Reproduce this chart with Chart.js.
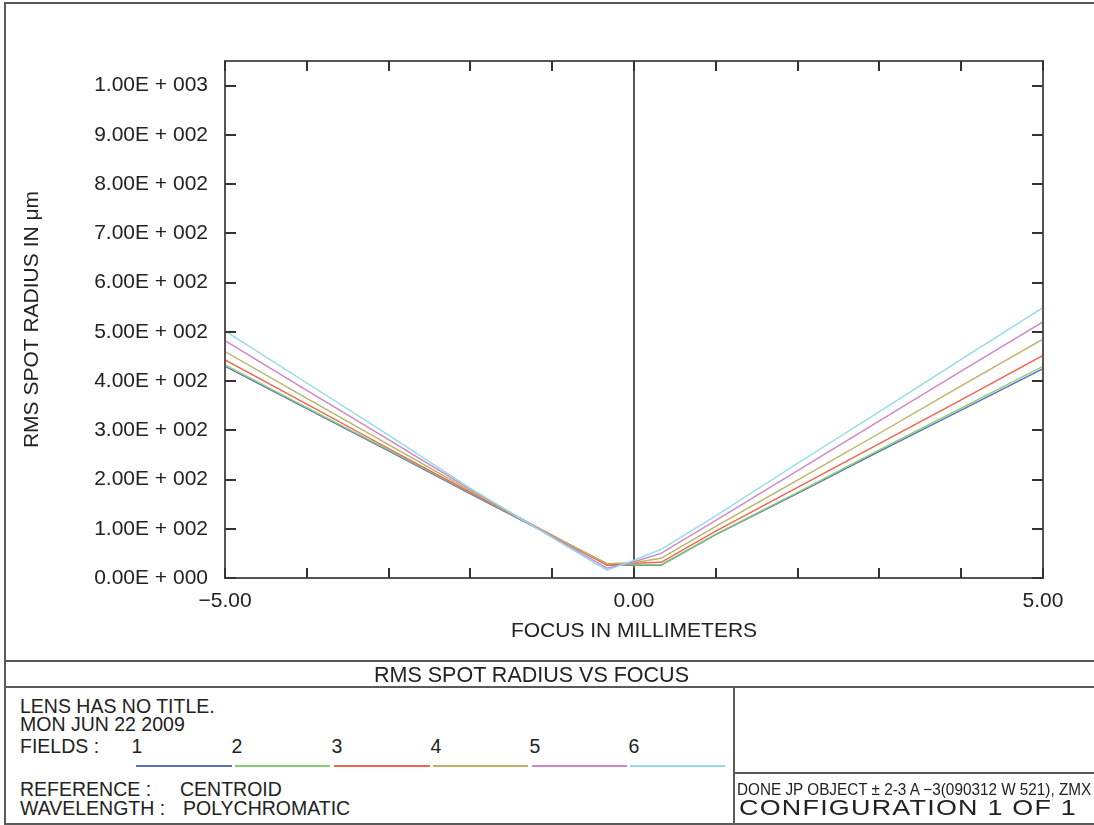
<!DOCTYPE html>
<html><head><meta charset="utf-8">
<script src="https://cdn.jsdelivr.net/npm/chart.js@4/dist/chart.umd.min.js"></script>
<style>
html,body{margin:0;padding:0;background:#fff;}
#wrap{position:relative;width:1094px;height:825px;overflow:hidden;font-family:"Liberation Sans",Arial,sans-serif;color:#222;}
#c{position:absolute;left:0;top:0;}
.t{position:absolute;white-space:nowrap;line-height:1;}
.ln{position:absolute;background:#5a5a5a;}
</style></head><body>
<div id="wrap">
<canvas id="c" width="1094" height="660"></canvas>
<div class="ln" style="left:4px;top:2px;width:1090px;height:2px"></div>
<div class="ln" style="left:4px;top:2px;width:2px;height:823px"></div>
<div class="ln" style="left:4px;top:823px;width:1090px;height:2px"></div>
<div class="ln" style="left:4px;top:660px;width:1090px;height:2px"></div>
<div class="ln" style="left:4px;top:686px;width:1090px;height:2px"></div>
<div class="ln" style="left:733px;top:686px;width:2px;height:139px"></div>
<div class="ln" style="left:733px;top:772px;width:361px;height:2px"></div>
<div class="t" style="left:374px;top:664.5px;font-size:21.5px">RMS SPOT RADIUS VS FOCUS</div>
<div class="t" style="left:20px;top:696.5px;font-size:19.5px">LENS HAS NO TITLE.</div>
<div class="t" style="left:20px;top:714.5px;font-size:19.5px">MON JUN 22 2009</div>
<div class="t" style="left:20px;top:736.5px;font-size:19.5px">FIELDS :</div>
<div class="t" style="left:20px;top:779.5px;font-size:19.5px">REFERENCE :</div>
<div class="t" style="left:180px;top:779.5px;font-size:19.5px">CENTROID</div>
<div class="t" style="left:20px;top:798.5px;font-size:19.5px">WAVELENGTH :</div>
<div class="t" style="left:183px;top:798.5px;font-size:19.5px">POLYCHROMATIC</div>
<div class="t" style="left:737px;top:781px;font-size:16.5px;transform:scaleX(0.927);transform-origin:0 0">DONE JP OBJECT ± 2-3 A −3(090312 W 521), ZMX</div>
<div class="t" style="left:739px;top:797.5px;font-size:21.5px;letter-spacing:1px;transform:scaleX(1.25);transform-origin:0 0">CONFIGURATION 1 OF 1</div>
</div>
<script>
// ---- data ----
const focusMm = [-5, -4, -3, -2, -1, -0.33, 0, 0.33, 1, 2, 3, 4, 5];
const field1 = [430, 344, 258, 171, 85, 27, 26, 26, 88, 172, 257, 341, 425];
const field2 = [433, 346, 260, 173, 86, 29, 27, 27, 89, 174, 260, 345, 430];
const field3 = [443, 353, 263, 174, 87, 26, 30, 32, 95, 184, 273, 362, 452];
const field4 = [460, 365, 271, 177, 86, 29, 31, 40, 105, 199, 294, 390, 485];
const field5 = [482, 381, 281, 180, 84, 20, 33, 50, 117, 218, 319, 420, 520];
const field6 = [502, 396, 290, 182, 82, 16, 36, 58, 126, 233, 338, 444, 549];
const fieldNames = ['1', '2', '3', '4', '5', '6'];
const fieldColors = ['#5f6fbf', '#86cf72', '#f2634f', '#b9b466', '#cf85cb', '#93dbe8'];
const xTickValues = [-5, -4, -3, -2, -1, 0, 1, 2, 3, 4, 5];
const xTickLabels = ['\u22125.00', '', '', '', '', '0.00', '', '', '', '', '5.00'];
const yTickValues = [0, 100, 200, 300, 400, 500, 600, 700, 800, 900, 1000];
const yTickLabels = ['0.00E + 000', '1.00E + 002', '2.00E + 002', '3.00E + 002', '4.00E + 002', '5.00E + 002', '6.00E + 002', '7.00E + 002', '8.00E + 002', '9.00E + 002', '1.00E + 003'];

const allFields = [field1, field2, field3, field4, field5, field6];

// legend numbers and line swatches
const numX = [137, 237, 337, 436, 535, 634];
const segs = [[136, 232], [235, 330], [334, 430], [433, 528], [532, 627], [630, 725]];
const wrap = document.getElementById('wrap');
fieldNames.forEach((n, i) => {
  const d = document.createElement('div');
  d.className = 't';
  d.style.cssText = `left:${numX[i]}px;top:736.5px;font-size:19.5px;transform:translateX(-50%)`;
  d.textContent = n;
  wrap.appendChild(d);
  const l = document.createElement('div');
  l.style.cssText = `position:absolute;left:${segs[i][0]}px;top:765px;width:${segs[i][1]-segs[i][0]}px;height:2px;background:${fieldColors[i]}`;
  wrap.appendChild(l);
});

const FONT = "'Liberation Sans', Arial, sans-serif";

const framePlugin = {
  id: 'frame',
  beforeDatasetsDraw(chart) {
    const {ctx, chartArea: a, scales: {x}} = chart;
    const x0 = x.getPixelForValue(0);
    ctx.save();
    ctx.strokeStyle = '#222'; ctx.lineWidth = 1.5;
    ctx.beginPath(); ctx.moveTo(x0, a.top); ctx.lineTo(x0, a.bottom); ctx.stroke();
    ctx.restore();
  },
  afterDatasetsDraw(chart) {
    const {ctx, chartArea: a, scales: {x, y}} = chart;
    ctx.save();
    ctx.strokeStyle = '#555'; ctx.lineWidth = 2;
    ctx.strokeRect(a.left, a.top, a.right - a.left, a.bottom - a.top);
    ctx.strokeStyle = '#333'; ctx.lineWidth = 2;
    ctx.beginPath();
    xTickValues.forEach(v => {
      const p = Math.round(x.getPixelForValue(v));
      ctx.moveTo(p, a.bottom); ctx.lineTo(p, a.bottom - 10);
      ctx.moveTo(p, a.top); ctx.lineTo(p, a.top + 10);
    });
    yTickValues.forEach(v => {
      const p = Math.round(y.getPixelForValue(v));
      ctx.moveTo(a.left, p); ctx.lineTo(a.left + 11, p);
      ctx.moveTo(a.right, p); ctx.lineTo(a.right - 11, p);
    });
    ctx.stroke();
    ctx.restore();
  }
};

new Chart(document.getElementById('c'), {
  type: 'line',
  data: {
    datasets: allFields.map((f, i) => ({
      label: fieldNames[i],
      data: focusMm.map((xv, k) => ({x: xv, y: f[k]})),
      borderColor: fieldColors[i],
      backgroundColor: fieldColors[i],
      borderWidth: 1.4,
      pointRadius: 0,
      tension: 0,
      order: 6 - i
    }))
  },
  options: {
    responsive: false,
    animation: false,
    events: [],
    layout: {padding: {top: 61, right: 51, bottom: 0, left: 0}},
    plugins: {legend: {display: false}, tooltip: {enabled: false}},
    scales: {
      x: {
        type: 'linear', min: -5, max: 5,
        grid: {display: false, drawTicks: false},
        border: {display: false},
        afterBuildTicks: s => { s.ticks = xTickValues.map(v => ({value: v})); },
        afterFit: s => { s.height = 82; },
        ticks: {
          autoSkip: false, maxRotation: 0, padding: 11, color: '#222',
          font: {family: FONT, size: 21},
          callback: v => xTickLabels[xTickValues.indexOf(v)]
        },
        title: {display: true, text: 'FOCUS IN MILLIMETERS', color: '#222',
          font: {family: FONT, size: 21}, padding: {top: 0, bottom: 16}}
      },
      y: {
        type: 'linear', min: 0, max: 1050,
        grid: {display: false, drawTicks: false},
        border: {display: false},
        afterBuildTicks: s => { s.ticks = yTickValues.map(v => ({value: v})); },
        afterFit: s => { s.width = 225; },
        ticks: {
          autoSkip: false, padding: 17, color: '#222',
          font: {family: FONT, size: 21},
          callback: v => yTickLabels[yTickValues.indexOf(v)]
        },
        title: {display: true, text: 'RMS SPOT RADIUS IN \u03bcm', color: '#222',
          font: {family: FONT, size: 21}, padding: {top: 20, bottom: 0}}
      }
    }
  },
  plugins: [framePlugin]
});
</script>
</body></html>
